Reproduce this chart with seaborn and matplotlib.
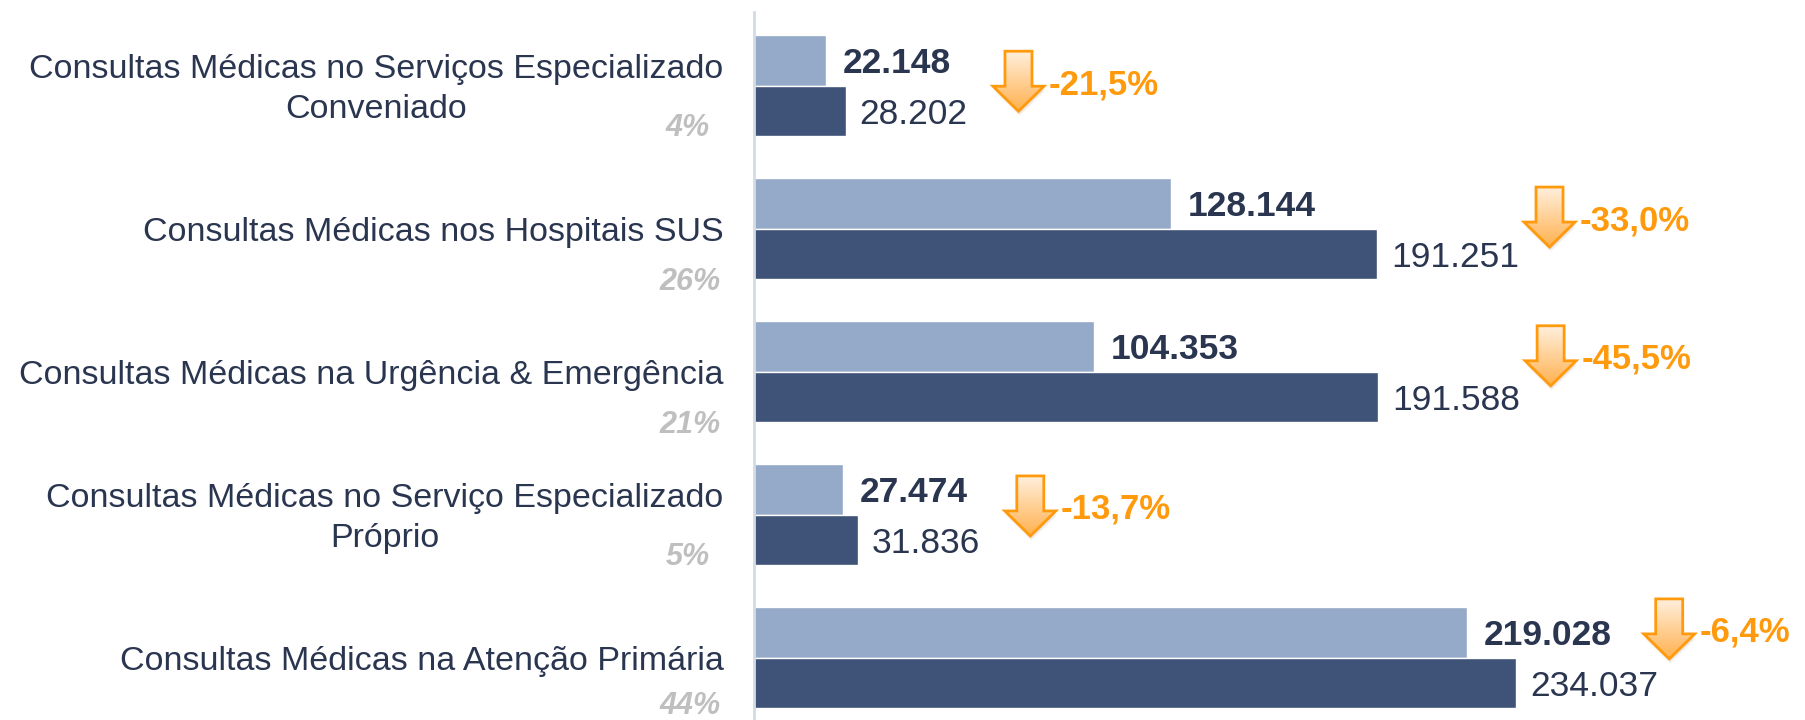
import numpy as np
import pandas as pd
import matplotlib
matplotlib.use("Agg")
import matplotlib.pyplot as plt
import matplotlib.transforms as mtransforms
from matplotlib.patches import Polygon
import seaborn as sns

# dados
categorias = [
    "Consultas Médicas no Serviços Especializado\nConveniado",
    "Consultas Médicas nos Hospitais SUS",
    "Consultas Médicas na Urgência & Emergência",
    "Consultas Médicas no Serviço Especializado\nPróprio",
    "Consultas Médicas na Atenção Primária",
]
participacao = ["4%", "26%", "21%", "5%", "44%"]
valores_atual = [22148, 128144, 104353, 27474, 219028]
valores_anterior = [28202, 191251, 191588, 31836, 234037]
variacao = ["-21,5%", "-33,0%", "-45,5%", "-13,7%", "-6,4%"]
periodos = ["atual", "anterior"]

# deslocamento vertical das setas (layout)
seta_dy = [-0.03, -0.08, -0.11, -0.06, -0.2]

cor_clara = "#95a9c8"
cor_escura = "#3f5277"
cor_texto = "#2a3550"
cor_laranja = "#ff9a0d"
cor_cinza = "#bfbfbf"

sns.set_style("white")
plt.rcParams["font.family"] = ["Liberation Sans", "DejaVu Sans"]

df = pd.DataFrame({
    "categoria": categorias * 2,
    "valor": valores_atual + valores_anterior,
    "periodo": [periodos[0]] * 5 + [periodos[1]] * 5,
})

fig = plt.figure(figsize=(18.06, 7.2), dpi=100)
ax = fig.add_axes([754 / 1806, 0, 1 - 754 / 1806, 708 / 720])

sns.barplot(data=df, y="categoria", x="valor", hue="periodo", orient="h",
            palette=[cor_clara, cor_escura], width=0.706, dodge=True,
            saturation=1, legend=False, ax=ax)

xmax = 323000
ymin, ymax = 4.437, -0.514
ax.set_xlim(0, xmax)
ax.set_ylim(ymin, ymax)
ax.set_xticks([])
ax.set_yticks([])
ax.set_xlabel("")
ax.set_ylabel("")
for s in ["top", "right", "bottom"]:
    ax.spines[s].set_visible(False)
ax.spines["left"].set_color("#d3dbe6")
ax.spines["left"].set_linewidth(2)

renderer = fig.canvas.get_renderer()
meia = 0.1765
grad = np.linspace(0, 1, 64).reshape(-1, 1)
cmap = matplotlib.colors.LinearSegmentedColormap.from_list("g", ["#ffefdc", "#ffb14f"])

for i in range(len(categorias)):
    # valores
    ax.annotate(f"{valores_atual[i]:,}".replace(",", "."), (valores_atual[i], i - meia),
                xytext=(12, 0), textcoords="offset points", va="center_baseline", ha="left",
                fontsize=25.5, fontweight="bold", color=cor_texto)
    ax.annotate(f"{valores_anterior[i]:,}".replace(",", "."), (valores_anterior[i], i + meia),
                xytext=(10, 0), textcoords="offset points", va="center_baseline", ha="left",
                fontsize=25.5, color=cor_texto)

    # rótulos das categorias (linhas separadas, segunda linha centrada na primeira)
    linhas = categorias[i].split("\n")
    if len(linhas) == 1:
        ax.annotate(linhas[0], (0, i), xytext=(-22, 0), textcoords="offset points",
                    va="center_baseline", ha="right", fontsize=24.5, color=cor_texto,
                    annotation_clip=False)
        dy_pct, dx_pct = min(0.35, ymin - 0.12 - i), -24
    else:
        t1 = ax.annotate(linhas[0], (0, i - 0.135), xytext=(-22, 0), textcoords="offset points",
                         va="center_baseline", ha="right", fontsize=24.5, color=cor_texto,
                         annotation_clip=False)
        larg = t1.get_window_extent(renderer).width * 72 / fig.dpi
        ax.annotate(linhas[1], (0, i + 0.14), xytext=(-22 - larg / 2, 0),
                    textcoords="offset points", va="center_baseline", ha="center",
                    fontsize=24.5, color=cor_texto, annotation_clip=False)
        dy_pct, dx_pct = 0.27, -32
    ax.annotate(participacao[i], (0, i + dy_pct), xytext=(dx_pct, 0), textcoords="offset points",
                va="center_baseline", ha="right", fontsize=22, color=cor_cinza,
                fontweight="bold", fontstyle="italic", annotation_clip=False)

    # seta de variação
    xa = min(valores_anterior[i] + 53000, xmax - 42000)
    ya = i + seta_dy[i]
    tr = fig.dpi_scale_trans + mtransforms.ScaledTranslation(xa, ya, ax.transData)
    w_cab, w_haste, alt, cab = 0.255, 0.135, 0.60, 0.25
    pts = np.array([
        [-w_haste, alt / 2], [w_haste, alt / 2], [w_haste, -alt / 2 + cab],
        [w_cab, -alt / 2 + cab], [0, -alt / 2], [-w_cab, -alt / 2 + cab],
        [-w_haste, -alt / 2 + cab],
    ])
    for k, a in [(0.05, 0.05), (0.035, 0.07), (0.02, 0.09)]:
        sombra_tr = fig.dpi_scale_trans + mtransforms.ScaledTranslation(0.01, -k, fig.dpi_scale_trans) \
            + mtransforms.ScaledTranslation(xa, ya, ax.transData)
        ax.add_patch(Polygon(pts, closed=True, transform=sombra_tr, facecolor="#7a5a30",
                             alpha=a, edgecolor="none", zorder=3))
    seta = Polygon(pts, closed=True, transform=tr, facecolor="none",
                   edgecolor=cor_laranja, linewidth=2, zorder=5)
    im = ax.imshow(grad, cmap=cmap, aspect="auto", origin="upper",
                   extent=[-w_cab, w_cab, -alt / 2, alt / 2], zorder=4)
    im.set_transform(tr)
    ax.add_patch(seta)
    im.set_clip_path(seta)

    ax.annotate(variacao[i], (xa, ya), xytext=(22, 0), textcoords="offset points",
                va="center_baseline", ha="left", fontsize=25, fontweight="bold",
                color=cor_laranja)

ax.set_xlim(0, xmax)
ax.set_ylim(ymin, ymax)

fig.savefig("out.png", dpi=100)
